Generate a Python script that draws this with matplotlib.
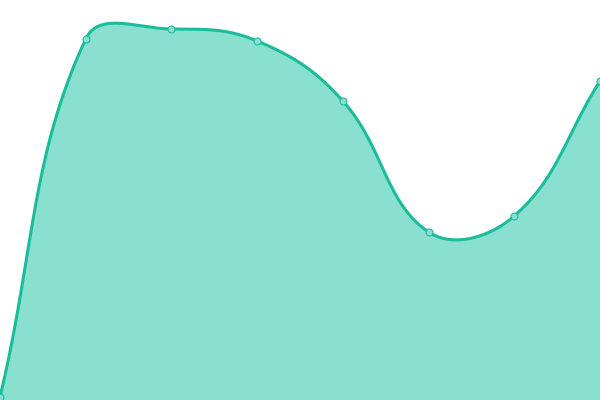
import matplotlib
matplotlib.use("Agg")
import matplotlib.pyplot as plt
import numpy as np

# values (bottom = 0, top = 400)
labels = ["A", "B", "C", "D", "E", "F", "G", "H"]
values = [3, 361, 371, 359, 299, 168, 184, 319]

LINE = "#1abc9c"
FILL = "#8ae0ce"
TENSION = 0.4


def spline_path(px, py, t=TENSION, steps=40):
    """Chart.js-style bezier smoothing through the points (pixel space)."""
    pts = np.column_stack([px, py]).astype(float)
    n = len(pts)
    cp_prev = pts.copy()
    cp_next = pts.copy()
    for i in range(n):
        prev = pts[max(i - 1, 0)]
        cur = pts[i]
        nxt = pts[min(i + 1, n - 1)]
        d01 = np.hypot(*(cur - prev))
        d12 = np.hypot(*(nxt - cur))
        tot = d01 + d12
        s01 = d01 / tot if tot else 0
        s12 = d12 / tot if tot else 0
        cp_prev[i] = cur - t * s01 * (nxt - prev)
        cp_next[i] = cur + t * s12 * (nxt - prev)
    xs, ys = [], []
    u = np.linspace(0, 1, steps)[:, None]
    for i in range(n - 1):
        p0, p1, p2, p3 = pts[i], cp_next[i], cp_prev[i + 1], pts[i + 1]
        b = ((1 - u) ** 3) * p0 + 3 * ((1 - u) ** 2) * u * p1 + 3 * (1 - u) * u ** 2 * p2 + u ** 3 * p3
        xs.append(b[:, 0])
        ys.append(b[:, 1])
    return np.concatenate(xs), np.concatenate(ys)


fig = plt.figure(figsize=(6, 4), dpi=100)
ax = fig.add_axes([0, 0, 1, 1])
W, H = 600, 400
x = np.linspace(0, W, len(values))
y = np.array(values, dtype=float)

# smooth in pixel space (y down) like the original renderer
sx, sy = spline_path(x, H - y)
sy = H - sy

ax.fill_between(sx, sy, 0, color=FILL, lw=0)
ax.plot(sx, sy, color=LINE, lw=2.2, solid_capstyle="round")
ax.plot(x, y, "o", ms=5, mfc=FILL, mec=LINE, mew=0.8)

ax.set_xlim(0, W)
ax.set_ylim(0, H)
ax.axis("off")
fig.savefig("out.png", dpi=100)
